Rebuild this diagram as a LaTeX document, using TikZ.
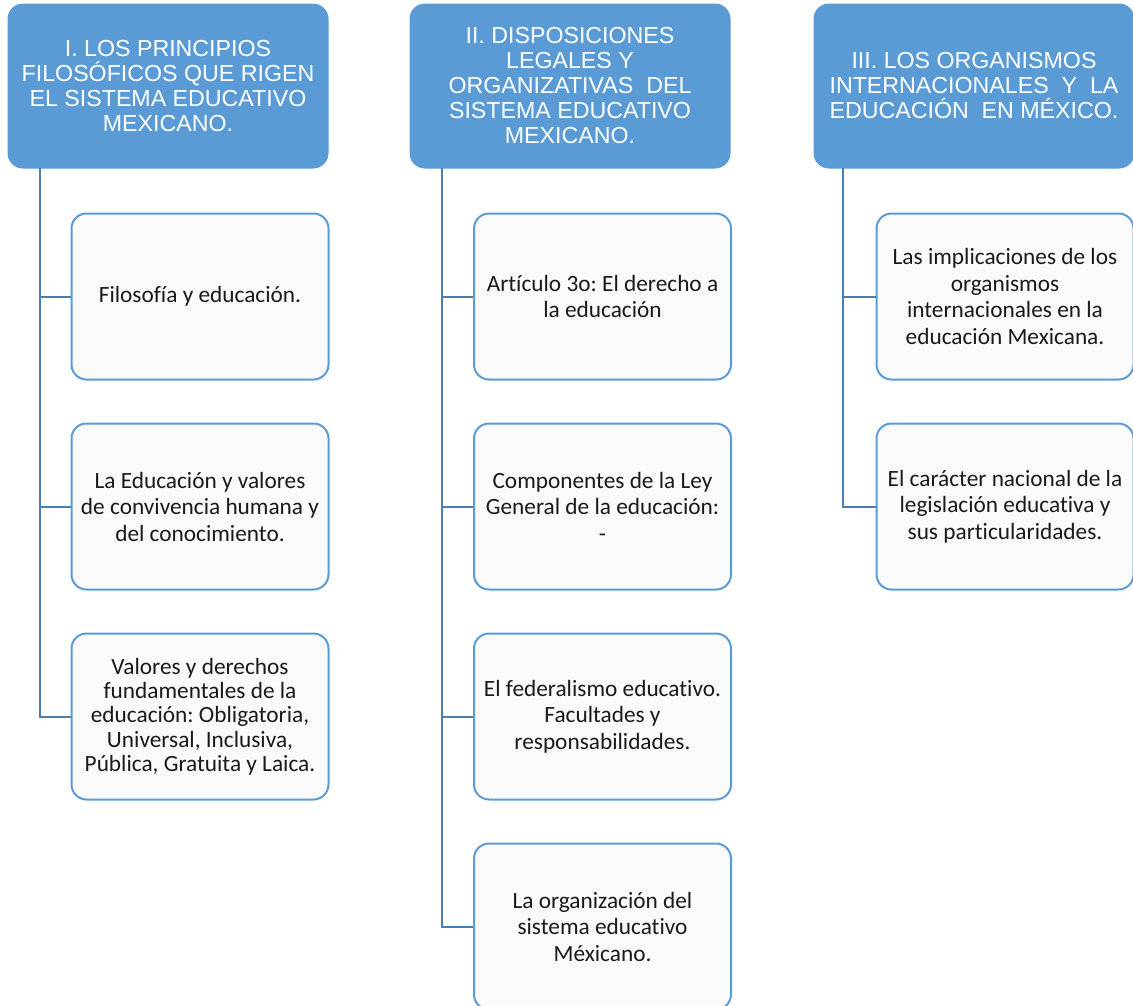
\documentclass[tikz,border=0pt]{standalone}
\usepackage{fontspec}
\setmainfont[Ligatures=NoCommon]{Carlito}
\newfontfamily\hdfont{Liberation Sans}
\frenchspacing
\definecolor{hdblue}{HTML}{5B9BD5}
\definecolor{lnblue}{HTML}{4A7EB0}
\definecolor{boxfill}{HTML}{FAFAFA}
\definecolor{txt}{HTML}{1A1A1A}
\begin{document}
\begin{tikzpicture}[x=1pt,y=-1pt,
  header/.style={draw=hdblue,fill=hdblue,line width=1pt,rounded corners=15pt,
    minimum width=320pt,minimum height=164pt,inner sep=0pt,align=center,
    text=white,font=\hdfont\frenchspacing\fontsize{23.2}{25}\selectfont},
  child/.style={draw=hdblue,fill=boxfill,line width=2pt,rounded corners=15pt,
    minimum width=257pt,minimum height=166pt,inner sep=0pt,align=center,
    text=txt,font=\frenchspacing\fontsize{23.3}{26.5}\selectfont},
  tight/.style={font=\frenchspacing\fontsize{23.3}{24.3}\selectfont},
  conn/.style={draw=lnblue,line width=2pt}]
\useasboundingbox (0,0) rectangle (1133,1005);
\clip (0,0) rectangle (1133,1005);

% headers
\node[header] (h1) at (168,86) {I. LOS PRINCIPIOS\\FILOSÓFICOS QUE RIGEN\\EL SISTEMA EDUCATIVO\\MEXICANO.};
\node[header] (h2) at (570,86) {II. DISPOSICIONES\\LEGALES Y\\ORGANIZATIVAS \ DEL\\SISTEMA EDUCATIVO\\MEXICANO.};
\node[header] (h3) at (974,86) {III. LOS ORGANISMOS\\INTERNACIONALES \ Y \ LA\\EDUCACIÓN \ EN MÉXICO.};

% column 1
\node[child] (c11) at (200,296.5) {Filosofía y educación.};
\node[child] (c12) at (200,506.5) {La Educación y valores\\de convivencia humana y\\del conocimiento.};
\node[child,tight] (c13) at (200,716.5) {Valores y derechos\\fundamentales de la\\educación: Obligatoria,\\Universal, Inclusiva,\\Pública, Gratuita y Laica.};

% column 2
\node[child] (c21) at (602.5,296.5) {Artículo 3o: El derecho a\\la educación};
\node[child] (c22) at (602.5,506.5) {Componentes de la Ley\\General de la educación:\\-};
\node[child] (c23) at (602.5,716.5) {El federalismo educativo.\\Facultades y\\responsabilidades.};
\node[child] (c24) at (602.5,926.5) {La organización del\\sistema educativo\\Méxicano.};

% column 3
\node[child] (c31) at (1005,296.5) {Las implicaciones de los\\organismos\\internacionales en la\\educación Mexicana.};
\node[child] (c32) at (1005,506.5) {El carácter nacional de la\\legislación educativa y\\sus particularidades.};

% connectors
\coordinate (t1) at (40,168);
\coordinate (t2) at (442,168);
\coordinate (t3) at (843,168);
\draw[conn] (t1) |- (c13.west);
\draw[conn] (t1 |- c11.west) -- (c11.west);
\draw[conn] (t1 |- c12.west) -- (c12.west);
\draw[conn] (t2) |- (c24.west);
\draw[conn] (t2 |- c21.west) -- (c21.west);
\draw[conn] (t2 |- c22.west) -- (c22.west);
\draw[conn] (t2 |- c23.west) -- (c23.west);
\draw[conn] (t3) |- (c32.west);
\draw[conn] (t3 |- c31.west) -- (c31.west);
\end{tikzpicture}
\end{document}
